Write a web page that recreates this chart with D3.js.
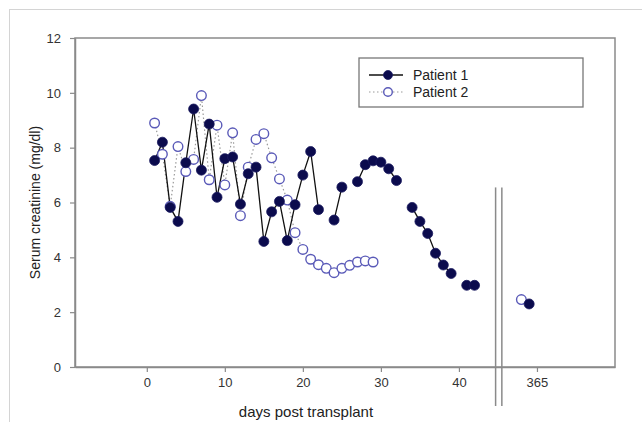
<!DOCTYPE html>
<html>
<head>
<meta charset="utf-8">
<script src="https://cdn.jsdelivr.net/npm/d3@7"></script>
<style>
  body { margin: 0; background: #fff; }
  svg { display: block; font-family: "Liberation Sans", Arial, sans-serif; }
  .axis text { fill: #333; font-size: 13px; }
</style>
</head>
<body>
<svg id="chart"></svg>
<script>
const w = 642,
h = 422,
m = { top: 38, right: 27, bottom: 55, left: 75 };

// days 1..42 for patient 1 (null = no measurement), then the 1 year value
const p1Days = [1, 2, 3, 4, 5, 6, 7, 8, 9, 10, 11, 12, 13, 14, 15, 16, 17, 18, 19, 20, 21,
  22, 23, 24, 25, 26, 27, 28, 29, 30, 31, 32, 33, 34, 35, 36, 37, 38, 39, 40, 41, 42];
const p1Values = [7.53, 8.2, 5.82, 5.31, 7.45, 9.41, 7.18, 8.86, 6.19, 7.6, 7.66, 5.94, 7.05, 7.29,
  4.58, 5.66, 6.04, 4.61, 5.92, 7.0, 7.86, 5.74, null, 5.36, 6.56, null, 6.76, 7.38, 7.52, 7.47,
  7.23, 6.8, null, 5.82, 5.31, 4.87, 4.15, 3.72, 3.41, null, 2.98, 2.98];
const p1Late = [[364, 2.3]];

const p2Days = [1, 2, 3, 4, 5, 6, 7, 8, 9, 10, 11, 12, 13, 14, 15, 16, 17, 18, 19, 20, 21,
  22, 23, 24, 25, 26, 27, 28, 29];
const p2Values = [8.9, 7.76, 5.86, 8.04, 7.13, 7.57, 9.9, 6.83, 8.82, 6.64, 8.54, 5.52, 7.29, 8.3,
  8.51, 7.63, 6.86, 6.09, 4.9, 4.29, 3.93, 3.73, 3.6, 3.44, 3.6, 3.71, 3.83, 3.87, 3.83];
const p2Late = [[363, 2.46]];

const xTicks = [0, 10, 20, 30, 40, 365],
yTicks = [0, 2, 4, 6, 8, 10, 12],
seriesNames = ["Patient 1", "Patient 2"];

const p1Color = "#0b0b4d",
p2Color = "#5a5ab8",
frameColor = "#8a8a8a";

// broken axis: everything after day 45 is shifted left by 315 days
const dayToPos = d => d > 45 ? d - 315 : d;

const x = d3.scaleLinear()
  .domain([-9.2, 60])
  .range([m.left, w - m.right]);

const y = d3.scaleLinear()
  .domain([0, 12])
  .range([h - m.bottom, m.top]);

const px = d => x(dayToPos(d));

const svg = d3.select("#chart")
  .attr("width", w)
  .attr("height", h)
  .attr("viewBox", [0, 0, w, h]);

// outer picture border
svg.append("rect")
  .attr("x", 9.5).attr("y", 9.5)
  .attr("width", w).attr("height", h)
  .attr("fill", "none")
  .attr("stroke", "#d4d4d4");

// frame
svg.append("rect")
  .attr("x", m.left).attr("y", m.top)
  .attr("width", w - m.right - m.left)
  .attr("height", h - m.bottom - m.top)
  .attr("fill", "none")
  .attr("stroke", frameColor)
  .attr("stroke-width", 1.5);

const xAxis = d3.axisBottom(x)
  .tickValues(xTicks.map(dayToPos))
  .tickFormat((d, i) => xTicks[i])
  .tickSize(5)
  .tickSizeOuter(0)
  .tickPadding(6);

const yAxis = d3.axisLeft(y)
  .tickValues(yTicks)
  .tickSize(5)
  .tickSizeOuter(0)
  .tickPadding(9);

const gx = svg.append("g")
  .attr("class", "axis")
  .attr("transform", `translate(0, ${h - m.bottom})`)
  .call(xAxis);

const gy = svg.append("g")
  .attr("class", "axis")
  .attr("transform", `translate(${m.left}, 0)`)
  .call(yAxis);

[gx, gy].forEach(g => {
  g.select(".domain").attr("stroke", frameColor).attr("stroke-width", 1.5);
  g.selectAll(".tick line").attr("stroke", frameColor).attr("stroke-width", 1.2);
});

// axis break marks
[44.7, 45.5].forEach(p => {
  svg.append("line")
    .attr("x1", x(p)).attr("x2", x(p))
    .attr("y1", y(6.55)).attr("y2", h - m.bottom + 39)
    .attr("stroke", frameColor)
    .attr("stroke-width", 1.5);
});

svg.append("text")
  .attr("x", x(20.4))
  .attr("y", h - 5)
  .attr("text-anchor", "middle")
  .attr("font-size", 15)
  .attr("fill", "#222")
  .text("days post transplant");

svg.append("text")
  .attr("transform", `translate(40, ${y(6)}) rotate(-90)`)
  .attr("text-anchor", "middle")
  .attr("font-size", 14)
  .attr("fill", "#222")
  .text("Serum creatinine (mg/dl)");

const p1 = p1Days.map((d, i) => [d, p1Values[i]]);
const p2 = p2Days.map((d, i) => [d, p2Values[i]]);

const line = d3.line()
  .defined(d => d[1] !== null)
  .x(d => px(d[0]))
  .y(d => y(d[1]));

svg.append("path")
  .attr("d", line(p2))
  .attr("fill", "none")
  .attr("stroke", "#9a9a9a")
  .attr("stroke-width", 1.2)
  .attr("stroke-dasharray", "1.5,2.5");

svg.append("path")
  .attr("d", line(p1))
  .attr("fill", "none")
  .attr("stroke", "#111")
  .attr("stroke-width", 1.3);

svg.append("g")
  .selectAll("circle")
  .data(p2.concat(p2Late))
  .join("circle")
  .attr("cx", d => px(d[0]))
  .attr("cy", d => y(d[1]))
  .attr("r", 4.8)
  .attr("fill", "#fff")
  .attr("stroke", p2Color)
  .attr("stroke-width", 1.4);

svg.append("g")
  .selectAll("circle")
  .data(p1.concat(p1Late).filter(d => d[1] !== null))
  .join("circle")
  .attr("cx", d => px(d[0]))
  .attr("cy", d => y(d[1]))
  .attr("r", 5)
  .attr("fill", p1Color)
  .attr("stroke", "#1a1a60")
  .attr("stroke-width", 0.8);

// legend
const legend = svg.append("g")
  .attr("transform", "translate(359, 58)");

legend.append("rect")
  .attr("width", 224)
  .attr("height", 49)
  .attr("fill", "#fff")
  .attr("stroke", "#777")
  .attr("stroke-width", 1.3);

seriesNames.forEach((name, i) => {
  const row = legend.append("g").attr("transform", `translate(0, ${17 + i * 17})`);
  row.append("line")
    .attr("x1", 10).attr("x2", 44)
    .attr("stroke", i === 0 ? "#111" : "#9a9a9a")
    .attr("stroke-width", i === 0 ? 1.3 : 1.2)
    .attr("stroke-dasharray", i === 0 ? null : "1.5,2.5");
  row.append("circle")
    .attr("cx", 29)
    .attr("r", i === 0 ? 4.5 : 4.3)
    .attr("fill", i === 0 ? p1Color : "#fff")
    .attr("stroke", i === 0 ? "#1a1a60" : p2Color)
    .attr("stroke-width", i === 0 ? 0.8 : 1.4);
  row.append("text")
    .attr("x", 54)
    .attr("dy", "0.36em")
    .attr("font-size", 14)
    .attr("fill", "#222")
    .text(name);
});
</script>
</body>
</html>
